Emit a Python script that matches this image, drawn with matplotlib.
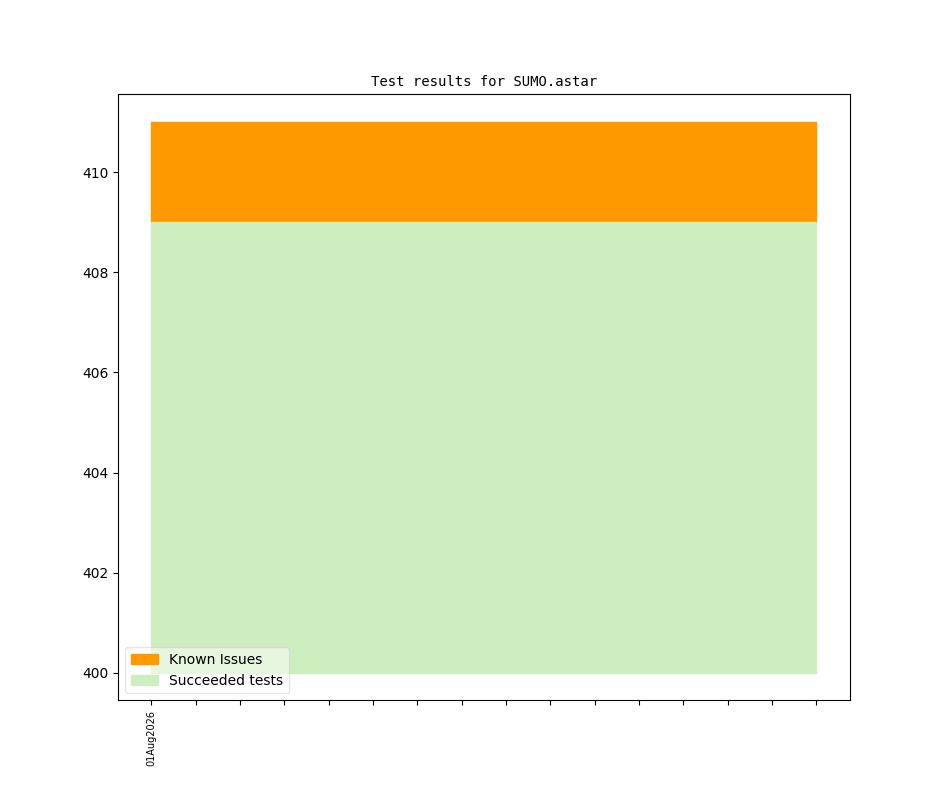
import matplotlib
matplotlib.use('Agg')
import matplotlib.pyplot as plt
import numpy as np

# Data
days = list(range(16))
tick_labels = ['01Aug2026'] + [''] * 15
succeeded = [409] * 16
known_issues = [2] * 16
base = 400

fig = plt.figure(figsize=(9.44, 7.87), dpi=100)
ax = fig.add_subplot(111)

succ = np.array(succeeded)
top = succ + np.array(known_issues)

ax.fill_between(days, succ, top, color='#ff9900', label='Known Issues')
ax.fill_between(days, base, succ, color='#cfeec0', label='Succeeded tests')

ax.set_xticks(days)
ax.set_xticklabels(tick_labels, rotation=90, fontsize=7)
ax.set_title('Test results for SUMO.astar', family='DejaVu Sans Mono', fontsize=10)
ax.legend(loc='lower left', framealpha=0.5)

fig.savefig('out.png', dpi=100)
